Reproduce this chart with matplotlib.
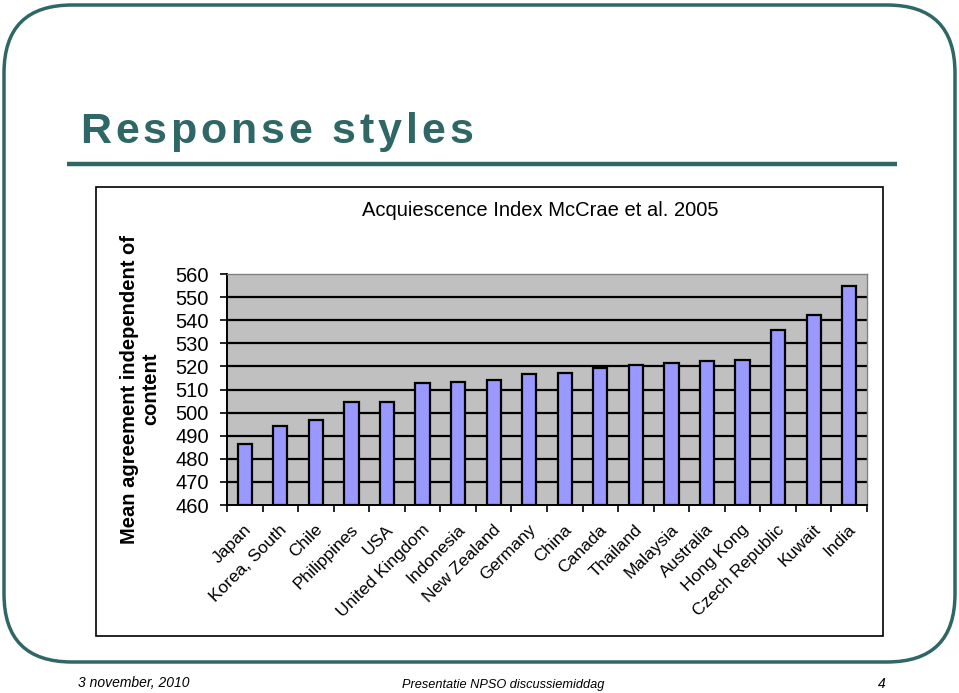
import matplotlib
matplotlib.use("Agg")
import matplotlib.pyplot as plt
from matplotlib.patches import FancyBboxPatch, Rectangle
from matplotlib.transforms import ScaledTranslation
from matplotlib.font_manager import FontProperties
from matplotlib.textpath import TextToPath

countries = [
    "Japan", "Korea, South", "Chile", "Philippines", "USA", "United Kingdom",
    "Indonesia", "New Zealand", "Germany", "China", "Canada", "Thailand",
    "Malaysia", "Australia", "Hong Kong", "Czech Republic", "Kuwait", "India",
]
acq_index = [
    486.6, 494.3, 496.8, 504.4, 504.4, 512.6, 513.3, 514.0, 516.7,
    517.3, 519.5, 520.8, 521.5, 522.2, 522.9, 535.9, 542.1, 555.0,
]
yticks = [460, 470, 480, 490, 500, 510, 520, 530, 540, 550, 560]

teal = "#2f6666"
plt.rcParams["font.family"] = ["Liberation Sans", "DejaVu Sans"]

W, H = 959, 693
fig = plt.figure(figsize=(W / 100, H / 100), dpi=100)

# slide background in pixel coords
bg = fig.add_axes([0, 0, 1, 1])
bg.set_xlim(0, W)
bg.set_ylim(H, 0)
bg.axis("off")

slide = FancyBboxPatch((4, 5), 951, 657, boxstyle="round,pad=0,rounding_size=68",
                       fill=False, edgecolor=teal, linewidth=2.5)
bg.add_patch(slide)
bg.plot([67, 897], [163.5, 163.5], color=teal, linewidth=3.2, solid_capstyle="butt")

# slide title, letter-spaced like the original
title = "Response styles"
tprop = FontProperties(family="Liberation Sans", weight="bold", size=31)
t2p = TextToPath()
def advance(s):
    if not s:
        return 0.0
    w1 = t2p.get_text_width_height_descent(s + "I", tprop, ismath=False)[0]
    w0 = t2p.get_text_width_height_descent("I", tprop, ismath=False)[0]
    return (w1 - w0) * 100 / 72
for i, ch in enumerate(title):
    bg.text(80 + advance(title[:i]) + i * 3.8, 143, ch, fontproperties=tprop,
            color=teal, ha="left", va="baseline")

bg.add_patch(Rectangle((96, 187), 787, 449, fill=False, edgecolor="black", linewidth=1.2))

bg.text(78, 683, "3 november, 2010", fontsize=10, style="italic", va="center")
bg.text(503, 685, "Presentatie NPSO discussiemiddag", fontsize=9.2, style="italic",
        ha="center", va="center")
bg.text(886, 684, "4", fontsize=10, style="italic", ha="right", va="center")

bg.text(540, 210, "Acquiescence Index McCrae et al. 2005", fontsize=14.5,
        ha="center", va="center")
bg.text(140, 389, "Mean agreement independent of\ncontent", fontsize=14.5,
        fontweight="bold", rotation=90, ha="center", va="center", linespacing=1.15)

# chart
ax = fig.add_axes([227 / W, 1 - 505 / H, 640 / W, 231 / H])
ax.set_facecolor("#c0c0c0")
x = list(range(len(countries)))
ax.bar(x, [v - 460 for v in acq_index], bottom=460, width=0.4, color="#9999ff",
       edgecolor="black", linewidth=1.6, zorder=3)
ax.set_xlim(-0.5, len(countries) - 0.5)
ax.set_ylim(460, 560)
for yv in yticks[1:-1]:
    ax.axhline(yv, color="black", linewidth=1.6, zorder=1)

ax.set_yticks(yticks)
ax.set_yticklabels([str(v) for v in yticks], fontsize=14.5)
ax.tick_params(axis="y", direction="out", length=5, width=1.2, pad=8)

ax.set_xticks([i - 0.5 for i in range(len(countries) + 1)])
ax.set_xticklabels([])
ax.tick_params(axis="x", which="major", direction="out", length=5, width=1.2)
ax.set_xticks(x, minor=True)
ax.set_xticklabels(countries, minor=True, fontsize=12.5, rotation=45,
                   ha="right", va="center", rotation_mode="anchor")
ax.tick_params(axis="x", which="minor", length=0, pad=16)
shift = ScaledTranslation(3 / 72, 0, fig.dpi_scale_trans)
for lab in ax.get_xticklabels(minor=True):
    lab.set_transform(lab.get_transform() + shift)

for side in ("top", "right"):
    ax.spines[side].set_color("#808080")
    ax.spines[side].set_linewidth(1.0)
ax.spines["left"].set_linewidth(1.4)
ax.spines["bottom"].set_linewidth(1.4)

fig.savefig("out.png", dpi=100)
